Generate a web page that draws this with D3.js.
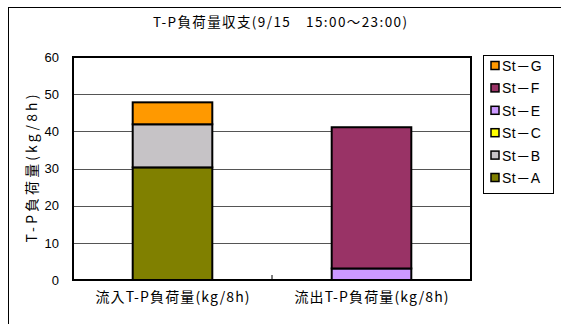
<!DOCTYPE html>
<html>
<head>
<meta charset="utf-8">
<script src="https://cdn.jsdelivr.net/npm/d3@7"></script>
<style>
  body { margin: 0; background: #fff; }
  svg { display: block; }
  text { font-family: "Liberation Sans", Arial, "Noto Sans CJK JP", sans-serif; fill: #000; }
  .jp { font-family: "Noto Sans CJK JP", "Liberation Sans", sans-serif; }
</style>
</head>
<body>
<svg id="chart" width="561" height="324"></svg>
<script>
// T-P load balance, 9/15 15:00–23:00
const categories = ["流入T-P負荷量(kg/8h)", "流出T-P負荷量(kg/8h)"];
const stations = ["St－A", "St－B", "St－C", "St－E", "St－F", "St－G"];
const stA = [30.3, 0];
const stB = [11.6, 0];
const stC = [0, 0];
const stE = [0, 3.1];
const stF = [0, 38.0];
const stG = [5.9, 0];
const yTicks = [0, 10, 20, 30, 40, 50, 60];
const colors = ["#808000", "#C6C3C6", "#FFFF00", "#CC99FF", "#993366", "#FF9900"];
const legendOrder = ["St－G", "St－F", "St－E", "St－C", "St－B", "St－A"];

const seriesValues = [stA, stB, stC, stE, stF, stG];
const rows = categories.map((c, i) => {
  const r = { cat: c };
  stations.forEach((s, j) => r[s] = seriesValues[j][i]);
  return r;
});

const svg = d3.select("#chart");

// outer chart frame
svg.append("rect").attr("x", 8.5).attr("y", 7.5).attr("width", 570).attr("height", 330)
  .attr("fill", "#fff").attr("stroke", "#000").attr("stroke-width", 1);

const plot = { left: 73, right: 471, top: 57, bottom: 280 };

const x = d3.scaleBand().domain(categories).range([plot.left, plot.right]).paddingInner(0.6).paddingOuter(0.3);
const y = d3.scaleLinear().domain([0, 60]).range([plot.bottom, plot.top]);

// gridlines
svg.append("g").selectAll("line").data(yTicks.filter(t => t > 0 && t < 60)).join("line")
  .attr("x1", plot.left).attr("x2", plot.right)
  .attr("y1", d => Math.round(y(d)) + 0.5).attr("y2", d => Math.round(y(d)) + 0.5)
  .attr("stroke", "#555").attr("stroke-width", 1);

// y axis tick labels
const yAxis = d3.axisLeft(y).tickValues(yTicks).tickSize(0).tickPadding(14);
const ya = svg.append("g").attr("transform", `translate(${plot.left},0)`).call(yAxis);
ya.select(".domain").remove();
ya.selectAll("text").attr("font-size", 13).attr("font-family", "Liberation Sans, Arial, sans-serif").attr("fill", "#000");

// stacked bars
const stack = d3.stack().keys(stations);
const layers = stack(rows);
const color = d3.scaleOrdinal().domain(stations).range(colors);

svg.append("g").selectAll("g").data(layers).join("g")
  .attr("fill", d => color(d.key))
  .selectAll("rect").data(d => d.filter(p => p[1] - p[0] > 0)).join("rect")
  .attr("x", d => x(d.data.cat))
  .attr("width", x.bandwidth())
  .attr("y", d => y(d[1]))
  .attr("height", d => y(d[0]) - y(d[1]))
  .attr("stroke", "#000").attr("stroke-width", 2);

// plot frame
svg.append("rect").attr("x", plot.left).attr("y", plot.top)
  .attr("width", plot.right - plot.left).attr("height", plot.bottom - plot.top)
  .attr("fill", "none").attr("stroke", "#000").attr("stroke-width", 2);

// category divider tick
const midX = (plot.left + plot.right) / 2;
svg.append("line").attr("x1", midX).attr("x2", midX).attr("y1", plot.bottom - 5).attr("y2", plot.bottom)
  .attr("stroke", "#000").attr("stroke-width", 1);

// category labels
const xAxis = d3.axisBottom(x).tickSize(0).tickPadding(12);
const xa = svg.append("g").attr("transform", `translate(0,${plot.bottom})`).call(xAxis);
xa.select(".domain").remove();
xa.selectAll("text").attr("font-size", 14).attr("class", "jp")
  .attr("font-family", "Noto Sans CJK JP, sans-serif").attr("fill", "#000")
  .attr("textLength", 154).attr("lengthAdjust", "spacing");

// title
svg.append("text").attr("class", "jp").attr("x", 280).attr("y", 27)
  .attr("text-anchor", "middle").attr("font-size", 13.5)
  .attr("textLength", 254).attr("lengthAdjust", "spacing")
  .text("T-P負荷量収支(9/15　15:00～23:00)");

// y axis title
svg.append("text").attr("class", "jp")
  .attr("transform", `translate(37,${(plot.top + plot.bottom) / 2}) rotate(-90)`)
  .attr("text-anchor", "middle").attr("font-size", 14)
  .attr("textLength", 148).attr("lengthAdjust", "spacing")
  .text("T-P負荷量(kg/8h)");

// legend
const lg = svg.append("g");
lg.append("rect").attr("x", 483.5).attr("y", 55.5).attr("width", 70).attr("height", 138)
  .attr("fill", "#fff").attr("stroke", "#000").attr("stroke-width", 1);
const items = lg.selectAll("g.item").data(legendOrder).join("g").attr("class", "item")
  .attr("transform", (d, i) => `translate(491,${66 + i * 22.4})`);
items.append("rect").attr("x", 0).attr("y", -4.5).attr("width", 8).attr("height", 8)
  .attr("fill", d => color(d)).attr("stroke", "#000").attr("stroke-width", 1.5);
items.append("text").attr("x", 11).attr("y", 5).attr("font-size", 14)
  .attr("font-family", "Liberation Sans, Noto Sans CJK JP, sans-serif")
  .attr("letter-spacing", 0.5).text(d => d);
</script>
</body>
</html>
